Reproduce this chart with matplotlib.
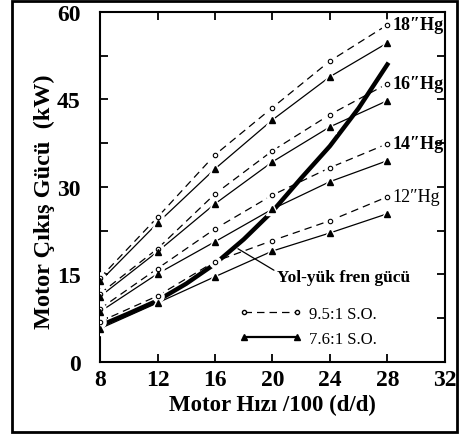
import matplotlib
matplotlib.use('Agg')
import matplotlib.pyplot as plt
from matplotlib.lines import Line2D
from matplotlib.patches import Rectangle

plt.rcParams['font.family'] = ['Liberation Serif', 'DejaVu Serif']

# motor speed /100 (rpm)
speed = [8, 12, 16, 20, 24, 28]

# 9.5:1 compression ratio (dashed, open circles)
hg18_95 = [14.4, 24.8, 35.5, 43.6, 51.6, 57.8]
hg16_95 = [11.7, 19.4, 28.8, 36.2, 42.4, 47.7]
hg14_95 = [9.1, 16.0, 22.8, 28.6, 33.3, 37.4]
hg12_95 = [6.9, 11.3, 17.2, 20.8, 24.2, 28.3]

# 7.6:1 compression ratio (solid, filled triangles)
hg18_76 = [13.8, 23.8, 33.1, 41.5, 48.9, 54.7]
hg16_76 = [11.2, 18.9, 27.1, 34.3, 40.3, 44.8]
hg14_76 = [8.6, 15.1, 20.6, 26.2, 30.9, 34.5]
hg12_76 = [5.7, 10.1, 14.6, 19.0, 22.1, 25.4]

# road-load brake power (bold curve)
road_speed = [8, 10, 12, 14, 16, 18, 20, 22, 24, 26, 28]
road_power = [6.2, 8.3, 10.5, 13.4, 16.8, 21.0, 25.8, 31.5, 37.0, 43.5, 51.0]

curve_labels = ['18\u2033Hg', '16\u2033Hg', '14\u2033Hg', '12\u2033Hg']
legend_labels = ['9.5:1 S.O.', '7.6:1 S.O.']

fig = plt.figure(figsize=(4.59, 4.35), dpi=100)
ax = fig.add_axes([0.218, 0.166, 0.751, 0.804])

ax.plot(road_speed, road_power, color='black', lw=3.2, zorder=2)

series95 = [hg18_95, hg16_95, hg14_95, hg12_95]
series76 = [hg18_76, hg16_76, hg14_76, hg12_76]

for s95, s76 in zip(series95, series76):
    ax.plot(speed, s95, color='black', lw=0.9, ls=(0, (6, 4)), zorder=3)
    ax.plot(speed, s76, color='black', lw=0.9, ls='-', zorder=3)
    # white halo so the lines stop short of the markers
    ax.plot(speed, s95, ls='none', marker='o', ms=8, mfc='white', mec='white', zorder=4)
    ax.plot(speed, s76, ls='none', marker='^', ms=8, mfc='white', mec='white', zorder=4)
    ax.plot(speed, s95, ls='none', marker='o', ms=3.2, mfc='white', mec='black', mew=0.8, zorder=5)
    ax.plot(speed, s76, ls='none', marker='^', ms=4, mfc='black', mec='black', zorder=5)

for lab, s95 in zip(curve_labels, series95):
    w = 'normal' if lab.startswith('12') else 'bold'
    ax.text(28.35, s95[-1], lab, fontsize=13, fontweight=w, ha='left', va='center', zorder=6)

ax.annotate('Yol-yük fren gücü', xy=(17.6, 19.4), xytext=(20.3, 14.6),
            fontsize=12.5, fontweight='bold', ha='left', va='center',
            arrowprops=dict(arrowstyle='-', color='black', lw=0.9, shrinkA=0, shrinkB=0,
                            relpos=(0, 0.8)))

h95 = Line2D([], [], color='black', lw=0.9, ls=(0, (6, 4)), marker='o', ms=3, mfc='white', mec='black')
h76 = Line2D([], [], color='black', lw=1.6, ls='-', marker='^', ms=4, mfc='black', mec='black')
leg = ax.legend([h95, h76], legend_labels, loc='lower left', bbox_to_anchor=(0.36, 0.0),
                frameon=False, numpoints=2, handlelength=3.8, handletextpad=0.4,
                labelspacing=0.55, prop={'size': 12})

ax.set_xlim(8, 32)
ax.set_ylim(0, 60)
ax.set_xticks([8, 12, 16, 20, 24, 28, 32])
ax.set_yticks([0, 15, 30, 45, 60])
ax.set_yticks([7.5, 22.5, 37.5, 52.5], minor=True)
ax.tick_params(axis='both', which='both', direction='in', top=True, right=True,
               width=1.3, labelsize=17)
ax.tick_params(which='major', length=6)
ax.tick_params(which='minor', length=6)
ax.tick_params(axis='y', pad=14)
ax.tick_params(axis='x', pad=5)
for t in ax.get_xticklabels() + ax.get_yticklabels():
    t.set_fontweight('bold')
for sp in ax.spines.values():
    sp.set_linewidth(1.5)

ax.set_xlabel('Motor Hızı /100 (d/d)', fontsize=16.5, fontweight='bold', labelpad=3)
ax.set_ylabel('Motor Çıkış Gücü  (kW)', fontsize=17.5, fontweight='bold')
ax.yaxis.set_label_coords(-0.13, 0.46)

fig.patches.append(Rectangle((0.027, 0.005), 0.968, 0.99, transform=fig.transFigure,
                             fill=False, lw=2, ec='black'))

fig.savefig('out.png', dpi=100)
